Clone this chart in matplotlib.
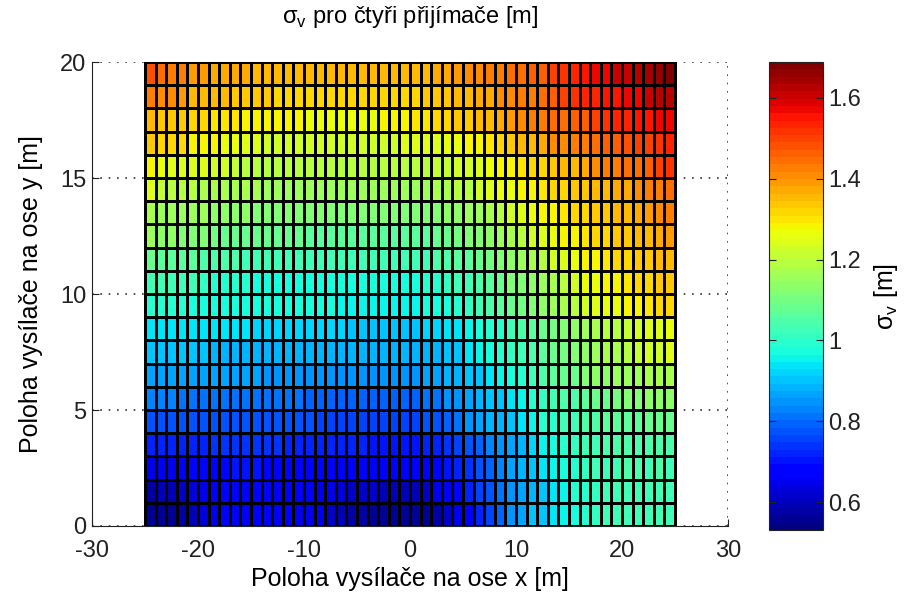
import numpy as np
import matplotlib
matplotlib.use('Agg')
import matplotlib.pyplot as plt

plt.rcParams['font.family'] = ['Liberation Sans', 'DejaVu Sans']
plt.rcParams['axes.unicode_minus'] = False

# cell edges [m]
x_edges = np.arange(-25, 26, 1)
y_edges = np.arange(0, 21, 1)

# sigma_v per cell, rows from y=0 (bottom) to y=19 (top), 50 columns x=-25..24
sigma_rows = [
    [0.55,0.55,0.56,0.57,0.60,0.63,0.65,0.66,0.67,0.67,0.67,0.66,0.66,0.66,0.65,0.65,0.64,0.62,0.60,0.58,0.57,0.56,0.55,0.55,0.55,
     0.55,0.56,0.58,0.62,0.64,0.67,0.72,0.75,0.80,0.84,0.87,0.90,0.91,0.93,0.96,0.97,1.00,1.01,1.02,1.03,1.03,1.02,1.02,1.03,1.02],
    [0.58,0.59,0.60,0.61,0.63,0.65,0.67,0.68,0.68,0.68,0.68,0.68,0.67,0.67,0.67,0.66,0.65,0.64,0.63,0.62,0.62,0.61,0.60,0.60,0.60,
     0.60,0.62,0.64,0.67,0.69,0.72,0.75,0.78,0.81,0.85,0.87,0.89,0.91,0.94,0.96,0.99,1.00,1.01,1.02,1.02,1.03,1.03,1.02,1.02,1.03],
    [0.64,0.64,0.65,0.66,0.67,0.68,0.69,0.69,0.70,0.70,0.70,0.69,0.69,0.69,0.69,0.68,0.68,0.67,0.67,0.66,0.66,0.66,0.66,0.66,0.66,
     0.66,0.67,0.68,0.70,0.72,0.74,0.77,0.80,0.83,0.86,0.88,0.91,0.93,0.96,0.98,1.00,1.01,1.02,1.03,1.03,1.04,1.04,1.03,1.04,1.03],
    [0.72,0.72,0.72,0.73,0.73,0.73,0.74,0.74,0.74,0.74,0.74,0.74,0.74,0.73,0.73,0.73,0.73,0.72,0.72,0.72,0.72,0.71,0.71,0.71,0.71,
     0.71,0.72,0.73,0.74,0.76,0.78,0.80,0.83,0.85,0.87,0.89,0.92,0.95,0.97,1.00,1.01,1.03,1.03,1.04,1.04,1.05,1.05,1.05,1.05,1.05],
    [0.78,0.78,0.78,0.78,0.78,0.78,0.78,0.78,0.78,0.78,0.77,0.77,0.77,0.77,0.77,0.77,0.76,0.76,0.76,0.76,0.76,0.76,0.76,0.76,0.76,
     0.76,0.77,0.78,0.80,0.82,0.84,0.86,0.88,0.89,0.91,0.93,0.96,0.99,1.00,1.02,1.03,1.04,1.05,1.06,1.06,1.07,1.07,1.08,1.08,1.08],
    [0.83,0.83,0.83,0.82,0.82,0.82,0.82,0.82,0.82,0.82,0.81,0.81,0.81,0.81,0.81,0.80,0.80,0.80,0.80,0.80,0.80,0.79,0.79,0.79,0.80,
     0.80,0.81,0.82,0.84,0.85,0.87,0.88,0.90,0.91,0.94,0.96,0.99,1.01,1.02,1.04,1.05,1.06,1.08,1.09,1.10,1.11,1.12,1.13,1.14,1.14],
    [0.87,0.87,0.87,0.86,0.86,0.86,0.86,0.86,0.86,0.86,0.86,0.85,0.85,0.85,0.85,0.85,0.85,0.85,0.85,0.85,0.85,0.85,0.85,0.85,0.85,
     0.85,0.86,0.87,0.88,0.89,0.90,0.91,0.93,0.96,0.98,1.00,1.02,1.04,1.06,1.08,1.09,1.11,1.13,1.14,1.15,1.16,1.16,1.17,1.18,1.18],
    [0.90,0.90,0.90,0.90,0.90,0.90,0.89,0.89,0.89,0.89,0.89,0.89,0.89,0.89,0.89,0.89,0.88,0.88,0.88,0.88,0.88,0.88,0.88,0.88,0.88,
     0.88,0.89,0.89,0.90,0.91,0.93,0.95,0.97,0.99,1.01,1.03,1.05,1.07,1.08,1.10,1.12,1.14,1.15,1.17,1.18,1.19,1.21,1.22,1.23,1.24],
    [0.93,0.93,0.93,0.93,0.93,0.93,0.93,0.93,0.93,0.93,0.92,0.92,0.92,0.92,0.92,0.92,0.92,0.92,0.92,0.91,0.91,0.91,0.91,0.91,0.91,
     0.91,0.92,0.92,0.93,0.94,0.95,0.97,0.99,1.00,1.02,1.04,1.06,1.08,1.10,1.12,1.14,1.16,1.18,1.19,1.20,1.21,1.23,1.24,1.25,1.26],
    [1.00,1.00,1.00,0.99,0.98,0.98,0.98,0.98,0.98,0.98,0.98,0.98,0.97,0.97,0.97,0.97,0.97,0.97,0.96,0.96,0.96,0.96,0.96,0.96,0.96,
     0.96,0.97,0.97,0.98,0.99,1.01,1.03,1.04,1.06,1.08,1.10,1.12,1.14,1.16,1.18,1.20,1.22,1.24,1.26,1.27,1.28,1.29,1.30,1.31,1.32],
    [1.03,1.02,1.02,1.02,1.02,1.01,1.00,0.99,0.99,0.99,0.98,0.98,0.98,0.98,0.98,0.98,0.98,0.97,0.97,0.97,0.97,0.97,0.97,0.97,0.97,
     0.98,0.99,1.00,1.01,1.02,1.03,1.05,1.07,1.09,1.11,1.12,1.14,1.16,1.18,1.20,1.23,1.26,1.27,1.28,1.29,1.30,1.31,1.32,1.33,1.34],
    [1.08,1.06,1.06,1.06,1.06,1.05,1.04,1.04,1.04,1.03,1.03,1.03,1.03,1.03,1.03,1.03,1.03,1.03,1.02,1.02,1.02,1.02,1.02,1.02,1.02,
     1.02,1.03,1.04,1.05,1.06,1.07,1.08,1.10,1.12,1.14,1.16,1.18,1.20,1.22,1.24,1.26,1.28,1.29,1.30,1.31,1.32,1.33,1.34,1.35,1.36],
    [1.15,1.13,1.13,1.12,1.12,1.11,1.10,1.09,1.09,1.08,1.08,1.08,1.08,1.08,1.08,1.07,1.07,1.07,1.07,1.07,1.07,1.07,1.06,1.06,1.06,
     1.06,1.07,1.08,1.09,1.10,1.11,1.12,1.14,1.16,1.18,1.20,1.22,1.24,1.26,1.28,1.29,1.30,1.31,1.32,1.33,1.34,1.35,1.36,1.38,1.39],
    [1.18,1.16,1.15,1.15,1.15,1.15,1.14,1.13,1.13,1.13,1.12,1.12,1.12,1.12,1.12,1.12,1.12,1.11,1.11,1.11,1.11,1.11,1.11,1.11,1.11,
     1.11,1.12,1.12,1.13,1.14,1.15,1.16,1.18,1.20,1.22,1.24,1.26,1.28,1.29,1.30,1.31,1.32,1.33,1.34,1.35,1.36,1.37,1.39,1.41,1.42],
    [1.24,1.21,1.20,1.20,1.19,1.18,1.17,1.17,1.17,1.17,1.17,1.16,1.16,1.16,1.16,1.16,1.16,1.16,1.16,1.16,1.16,1.16,1.16,1.16,1.16,
     1.16,1.16,1.17,1.18,1.19,1.20,1.22,1.24,1.26,1.27,1.28,1.29,1.30,1.31,1.32,1.33,1.34,1.35,1.36,1.37,1.38,1.40,1.42,1.43,1.45],
    [1.28,1.26,1.25,1.25,1.24,1.24,1.23,1.23,1.21,1.20,1.20,1.20,1.20,1.20,1.20,1.19,1.19,1.19,1.19,1.19,1.19,1.19,1.19,1.19,1.19,
     1.20,1.20,1.21,1.21,1.22,1.23,1.25,1.27,1.28,1.29,1.30,1.31,1.32,1.33,1.35,1.36,1.38,1.40,1.42,1.43,1.44,1.45,1.47,1.49,1.51],
    [1.34,1.32,1.31,1.31,1.29,1.29,1.28,1.26,1.26,1.25,1.24,1.23,1.23,1.23,1.22,1.22,1.22,1.22,1.22,1.22,1.22,1.23,1.23,1.23,1.24,
     1.24,1.25,1.25,1.26,1.27,1.28,1.29,1.30,1.32,1.34,1.35,1.36,1.38,1.40,1.41,1.42,1.43,1.45,1.46,1.47,1.48,1.49,1.50,1.52,1.54],
    [1.36,1.34,1.34,1.34,1.31,1.31,1.30,1.30,1.30,1.29,1.29,1.29,1.28,1.28,1.28,1.27,1.26,1.26,1.26,1.26,1.27,1.27,1.28,1.29,1.29,
     1.30,1.30,1.31,1.32,1.33,1.34,1.35,1.36,1.37,1.39,1.40,1.42,1.43,1.44,1.45,1.46,1.47,1.49,1.51,1.53,1.54,1.55,1.56,1.58,1.58],
    [1.42,1.41,1.40,1.39,1.36,1.35,1.35,1.35,1.33,1.33,1.33,1.33,1.32,1.32,1.32,1.32,1.32,1.32,1.32,1.32,1.32,1.32,1.32,1.32,1.32,
     1.32,1.33,1.33,1.34,1.35,1.36,1.37,1.38,1.40,1.41,1.42,1.43,1.45,1.47,1.49,1.51,1.53,1.54,1.55,1.56,1.57,1.58,1.60,1.62,1.63],
    [1.48,1.44,1.43,1.42,1.39,1.39,1.38,1.38,1.38,1.37,1.36,1.36,1.36,1.36,1.35,1.35,1.35,1.35,1.35,1.35,1.35,1.35,1.35,1.35,1.35,
     1.35,1.36,1.37,1.38,1.39,1.40,1.41,1.42,1.43,1.44,1.45,1.46,1.47,1.49,1.51,1.53,1.55,1.57,1.58,1.60,1.61,1.63,1.65,1.67,1.68],
]

c_min, c_max = 0.531, 1.689
x_ticks = [-30, -20, -10, 0, 10, 20, 30]
y_ticks = [0, 5, 10, 15, 20]
cbar_ticks = [0.6, 0.8, 1.0, 1.2, 1.4, 1.6]
cbar_labels = ['0.6', '0.8', '1', '1.2', '1.4', '1.6']

sigma = np.array(sigma_rows)

fig = plt.figure(figsize=(9.15, 6.01), dpi=100)
ax = fig.add_axes([0.1005, 0.1248, 0.6951, 0.772])
cax = fig.add_axes([0.8404, 0.1181, 0.059, 0.7787])

mesh = ax.pcolormesh(x_edges, y_edges, sigma, cmap=plt.get_cmap('jet', 64),
                     vmin=c_min, vmax=c_max, edgecolors='k', linewidth=0.9)

ax.set_xlim(-30, 30)
ax.set_ylim(0, 20)
ax.set_xticks(x_ticks)
ax.set_yticks(y_ticks)
ax.set_axisbelow(True)
ax.grid(True, color='#333333', linestyle=(0, (1, 4)), linewidth=1.2)
ax.spines['top'].set_visible(False)
ax.spines['right'].set_visible(False)
ax.spines['left'].set_color('#222222')
ax.spines['bottom'].set_color('#222222')
ax.tick_params(direction='in', length=5, labelsize=17, colors='#222222')
ax.tick_params(axis='x', pad=10)
ax.tick_params(axis='y', pad=4)

sub_v = r'$_{\mathregular{v}}$'
ax.set_title('σ' + sub_v + ' pro čtyři přijímače [m]', fontsize=17, pad=28)
ax.set_xlabel('Poloha vysílače na ose x [m]', fontsize=18, labelpad=4)
ax.set_ylabel('Poloha vysílače na ose y [m]', fontsize=18, labelpad=12)

cbar = fig.colorbar(mesh, cax=cax, ticks=cbar_ticks)
cbar.ax.set_yticklabels(cbar_labels)
cbar.ax.tick_params(direction='in', left=True, right=True, length=5, labelsize=17, colors='#222222')
cbar.outline.set_edgecolor('#222222')
cbar.set_label('σ' + sub_v + ' [m]', fontsize=18, rotation=90, labelpad=8)

fig.savefig('out.png', dpi=100)
